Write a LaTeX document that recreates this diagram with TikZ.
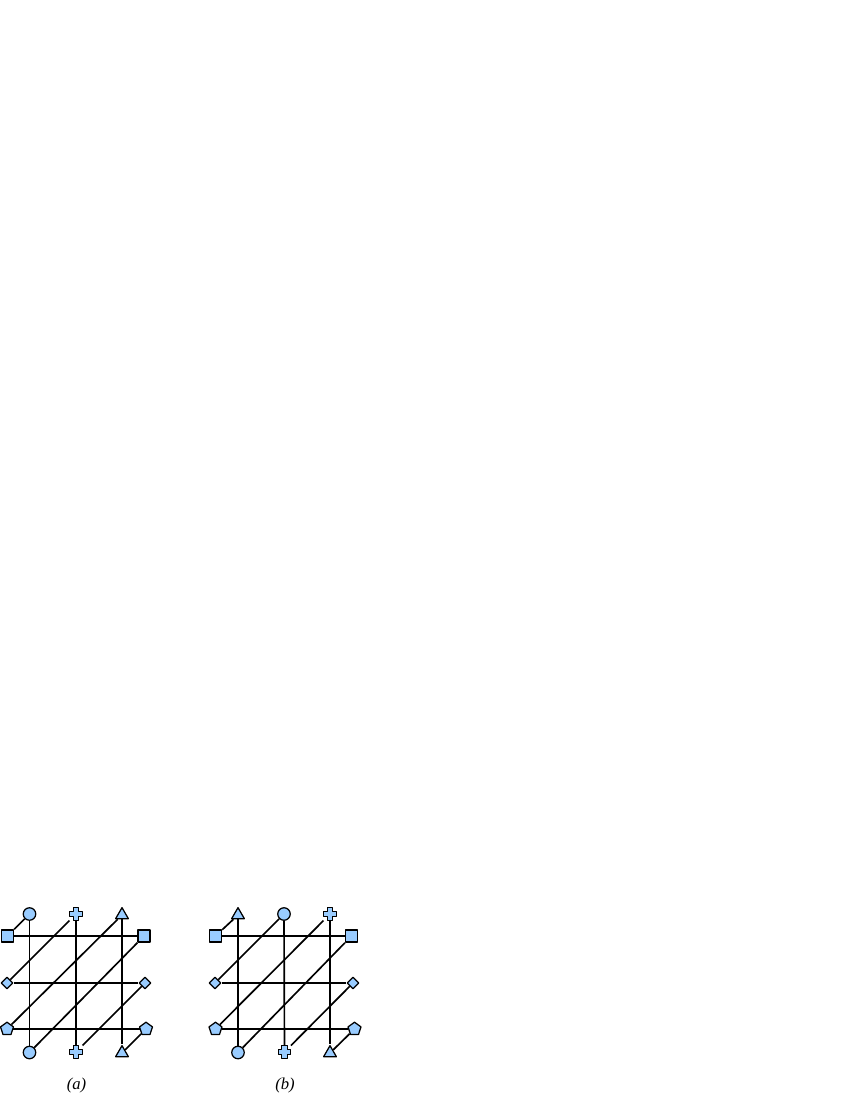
\documentclass[tikz,border=0pt]{standalone}
\usepackage{fontspec}
\setmainfont{Liberation Serif}
\usetikzlibrary{shapes.geometric,backgrounds}

\definecolor{markblue}{RGB}{153,204,255}

% plus-shaped terminal: invisible named node plus a drawn cross
\newcommand{\plusnode}[2]{%
  \node[plusbox] (#1) at #2 {};
  \filldraw[markline, shift={#2}] (-2.8,-6.3) -- (2.8,-6.3) -- (2.8,-2.8) -- (6.3,-2.8) -- (6.3,2.8) -- (2.8,2.8)
    -- (2.8,6.3) -- (-2.8,6.3) -- (-2.8,2.8) -- (-6.3,2.8) -- (-6.3,-2.8) -- (-2.8,-2.8) -- cycle;
}

\begin{document}
\begin{tikzpicture}[
    x=0.72pt, y=-0.72pt,
    markline/.style={draw=black, fill=markblue, line width=0.9pt, line join=round},
    termmark/.style={markline, inner sep=0pt},
    dot/.style={termmark, circle, minimum size=9pt},
    sq/.style={termmark, rectangle, minimum size=8.8pt},
    dia/.style={termmark, diamond, minimum size=8.6pt},
    pent/.style={termmark, regular polygon, regular polygon sides=5, minimum size=9.8pt},
    tri/.style={termmark, regular polygon, regular polygon sides=3, minimum size=10.6pt},
    plusbox/.style={inner sep=0pt, minimum size=9pt},
    wire/.style={line width=1.2pt},
    caption/.style={font=\itshape\fontsize{12}{14}\selectfont}
]
\useasboundingbox (0,0) rectangle (850,1100);

% ---------- panel (a) ----------
% top row
\node[dot] (atc) at (29.5,914) {};
\plusnode{atp}{(76,914)}
\node[tri] (att) at (122,915) {};
% left column
\node[sq] (als) at (7.5,936) {};
\node[dia] (ald) at (7,983) {};
\node[pent] (alp) at (7,1029) {};
% right column
\node[sq] (ars) at (144,936) {};
\node[dia] (ard) at (145,983) {};
\node[pent] (arp) at (146,1029) {};
% bottom row
\node[dot] (abc) at (29.5,1052.5) {};
\plusnode{abp}{(76,1052)}
\node[tri] (abt) at (122,1053) {};

\begin{scope}[on background layer]
\draw[wire] (atc) -- (abc);
\draw[wire] (atp) -- (abp);
\draw[wire] (att) -- (abt);
\draw[wire] (als) -- (ars);
\draw[wire] (ald) -- (ard);
\draw[wire] (alp) -- (arp);
\draw[wire] (als) -- (atc);
\draw[wire] (ald) -- (atp);
\draw[wire] (alp) -- (att);
\draw[wire] (abc) -- (ars);
\draw[wire] (abp) -- (ard);
\draw[wire] (abt) -- (arp);
\end{scope}

\node[caption] (capa) at (76.5,1085) {(a)};

% ---------- panel (b) ----------
% top row
\node[tri] (btt) at (238,915) {};
\node[dot] (btc) at (284,914) {};
\plusnode{btp}{(330,914)}
% left column
\node[sq] (bls) at (215.5,936) {};
\node[dia] (bld) at (215,983) {};
\node[pent] (blp) at (215.5,1029) {};
% right column
\node[sq] (brs) at (351.5,936) {};
\node[dia] (brd) at (353,983) {};
\node[pent] (brp) at (354.5,1029) {};
% bottom row
\node[dot] (bbc) at (238,1052.5) {};
\plusnode{bbp}{(284.5,1052)}
\node[tri] (bbt) at (330,1053) {};

\begin{scope}[on background layer]
\draw[wire] (btt) -- (bbc);
\draw[wire] (btc) -- (bbp);
\draw[wire] (btp) -- (bbt);
\draw[wire] (bls) -- (brs);
\draw[wire] (bld) -- (brd);
\draw[wire] (blp) -- (brp);
\draw[wire] (bls) -- (btt);
\draw[wire] (bld) -- (btc);
\draw[wire] (blp) -- (btp);
\draw[wire] (bbc) -- (brs);
\draw[wire] (bbp) -- (brd);
\draw[wire] (bbt) -- (brp);
\end{scope}

\node[caption] (capb) at (285,1085) {(b)};

\end{tikzpicture}
\end{document}
